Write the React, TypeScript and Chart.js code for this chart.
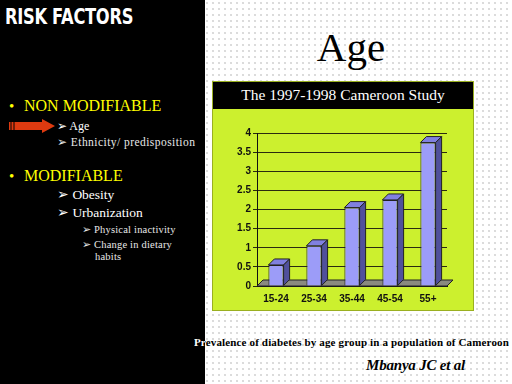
import React, { useEffect, useRef } from "react";
import { Chart, registerables } from "chart.js";

Chart.register(...registerables);

const categories = ["15-24", "25-34", "35-44", "45-54", "55+"];
const prevalence = [0.55, 1.05, 2.05, 2.25, 3.75];
const yTicks = [0, 0.5, 1, 1.5, 2, 2.5, 3, 3.5, 4];

const DEPTH = 6;

const threeD = {
  id: "threeD",
  beforeDatasetsDraw(chart: any) {
    const { ctx, chartArea } = chart;
    const b = chartArea.bottom;
    ctx.save();
    ctx.fillStyle = "#8a8a80";
    ctx.strokeStyle = "#222";
    ctx.lineWidth = 1;
    ctx.beginPath();
    ctx.moveTo(chartArea.left, b);
    ctx.lineTo(chartArea.left + DEPTH, b - DEPTH);
    ctx.lineTo(chartArea.right + DEPTH, b - DEPTH);
    ctx.lineTo(chartArea.right, b);
    ctx.closePath();
    ctx.fill();
    ctx.stroke();
    ctx.restore();
  },
  afterDatasetsDraw(chart: any) {
    const { ctx } = chart;
    const meta = chart.getDatasetMeta(0);
    ctx.save();
    ctx.strokeStyle = "#222";
    ctx.lineWidth = 1;
    meta.data.forEach((bar: any) => {
      const p = bar.getProps(["x", "y", "base", "width"], true);
      const l = p.x - p.width / 2;
      const r = p.x + p.width / 2;
      const t = p.y;
      const base = p.base;
      ctx.fillStyle = "#8080e0";
      ctx.beginPath();
      ctx.moveTo(l, t);
      ctx.lineTo(l + DEPTH, t - DEPTH);
      ctx.lineTo(r + DEPTH, t - DEPTH);
      ctx.lineTo(r, t);
      ctx.closePath();
      ctx.fill();
      ctx.stroke();
      ctx.fillStyle = "#50509c";
      ctx.beginPath();
      ctx.moveTo(r, t);
      ctx.lineTo(r + DEPTH, t - DEPTH);
      ctx.lineTo(r + DEPTH, base - DEPTH);
      ctx.lineTo(r, base);
      ctx.closePath();
      ctx.fill();
      ctx.stroke();
    });
    ctx.restore();
  },
};

function BarChart() {
  const ref = useRef<HTMLCanvasElement | null>(null);
  useEffect(() => {
    if (!ref.current) return;
    const chart = new Chart(ref.current, {
      type: "bar",
      data: {
        labels: categories,
        datasets: [
          {
            data: prevalence,
            backgroundColor: "#9c9cf8",
            borderColor: "#222",
            borderWidth: 1,
            barPercentage: 0.4,
            categoryPercentage: 1,
          },
        ],
      },
      options: {
        animation: false,
        responsive: false,
        maintainAspectRatio: false,
        layout: { padding: { left: 0, right: 25, top: 24, bottom: 0 } },
        plugins: {
          legend: { display: false },
          tooltip: { enabled: false },
          title: { display: false },
        },
        scales: {
          x: {
            grid: { display: false, drawTicks: false },
            border: { color: "#111" },
            ticks: {
              color: "#111",
              font: { family: "Liberation Sans, Arial, sans-serif", size: 10, weight: "bold" },
              padding: 7,
              maxRotation: 0,
            },
            afterFit(scale: any) {
              scale.height = 24;
            },
          },
          y: {
            min: 0,
            max: 4,
            afterBuildTicks(scale: any) {
              scale.ticks = yTicks.map((v) => ({ value: v }));
            },
            grid: { color: "#2a2a10", lineWidth: 1, drawTicks: true, tickLength: 4 },
            border: { color: "#111" },
            ticks: {
              color: "#111",
              font: { family: "Liberation Sans, Arial, sans-serif", size: 10, weight: "bold" },
              padding: 2,
              callback: (v: any) => String(v),
            },
            afterFit(scale: any) {
              scale.width = 44;
            },
          },
        },
      },
      plugins: [threeD],
    });
    return () => chart.destroy();
  }, []);
  return <canvas ref={ref} width={259} height={201} style={{ display: "block" }} />;
}

const serif = "'Liberation Serif', 'DejaVu Serif', serif";

export default function App() {
  const abs = (x: number, y: number, extra: any = {}) => ({
    position: "absolute" as const,
    left: x,
    top: y,
    whiteSpace: "nowrap" as const,
    lineHeight: 1,
    ...extra,
  });
  const caption = "Prevalence of diabetes by age group in a population of Cameroon";
  const captionStyle = {
    fontFamily: serif,
    fontWeight: "bold",
    fontSize: 11,
    letterSpacing: 0.15,
  };
  return (
    <div
      style={{
        position: "fixed",
        left: 0,
        top: 0,
        width: 512,
        height: 384,
        overflow: "hidden",
        background: "#ffffff",
        backgroundImage: "radial-gradient(#c8c8c8 0.6px, transparent 0.9px)",
        backgroundSize: "6px 6px",
      }}
    >
      <div style={{ position: "absolute", left: 0, top: 0, width: 205, height: 384, background: "#000" }} />
      <div
        style={abs(5, 6, {
          color: "#fff",
          fontFamily: "'DejaVu Sans', sans-serif",
          fontWeight: "bold",
          fontSize: 22,
          letterSpacing: -0.4,
          transform: "scaleX(0.74)",
          transformOrigin: "0 0",
        })}
      >
        RISK FACTORS
      </div>

      <div style={abs(9, 99, { color: "#ffff00", fontFamily: serif, fontSize: 15 })}>•</div>
      <div style={abs(24, 98, { color: "#ffff00", fontFamily: serif, fontSize: 16 })}>NON MODIFIABLE</div>
      <svg style={{ position: "absolute", left: 8, top: 119 }} width={50} height={15}>
        <polygon points="1,3 34,3 34,0 47,7 34,14 34,11 1,11" fill="#dd3a10" />
        <line x1="3" y1="3" x2="3" y2="11" stroke="#000" strokeWidth="1" />
        <line x1="6" y1="3" x2="6" y2="11" stroke="#000" strokeWidth="1" />
      </svg>
      <div style={abs(57, 120, { color: "#fff", fontFamily: serif, fontSize: 12 })}>➢ Age</div>
      <div style={abs(57, 137, { color: "#e8e8e8", fontFamily: serif, fontSize: 11.5, letterSpacing: 0.45 })}>➢ Ethnicity/ predisposition</div>

      <div style={abs(9, 169, { color: "#ffff00", fontFamily: serif, fontSize: 15 })}>•</div>
      <div style={abs(24, 168, { color: "#ffff00", fontFamily: serif, fontSize: 16 })}>MODIFIABLE</div>
      <div style={abs(57, 188, { color: "#fff", fontFamily: serif, fontSize: 13.5 })}>➢ Obesity</div>
      <div style={abs(57, 206, { color: "#fff", fontFamily: serif, fontSize: 13.5 })}>➢ Urbanization</div>
      <div style={abs(82, 225, { color: "#e8e8e8", fontFamily: serif, fontSize: 10.5, letterSpacing: 0.2 })}>➢ Physical inactivity</div>
      <div style={abs(82, 240, { color: "#e8e8e8", fontFamily: serif, fontSize: 10.5, letterSpacing: 0.2 })}>➢ Change in dietary</div>
      <div style={abs(95, 252, { color: "#e8e8e8", fontFamily: serif, fontSize: 10.5, letterSpacing: 0.2 })}>habits</div>

      <div style={{ position: "absolute", left: 206, top: 27, width: 290, textAlign: "center", fontFamily: serif, fontSize: 41, color: "#000", lineHeight: 1 }}>
        Age
      </div>

      <div style={{ position: "absolute", left: 212, top: 81, width: 260, height: 228, background: "#ccf02e", border: "1px solid #9ab020" }}>
        <div style={{ height: 27, background: "#000", color: "#fff", fontFamily: serif, fontSize: 15.5, textAlign: "center", lineHeight: "26px" }}>
          The 1997-1998 Cameroon Study
        </div>
        <BarChart />
      </div>

      <div style={abs(194, 337, { ...captionStyle, color: "#000", clipPath: "inset(0 0 0 11px)" })}>{caption}</div>
      <div style={abs(194, 337, { ...captionStyle, color: "#fff", clipPath: "inset(0 calc(100% - 11px) 0 0)" })}>{caption}</div>

      <div style={abs(366, 358, { fontFamily: serif, fontWeight: "bold", fontStyle: "italic", fontSize: 15, color: "#000", letterSpacing: -0.2 })}>
        Mbanya JC et al
      </div>
    </div>
  );
}
